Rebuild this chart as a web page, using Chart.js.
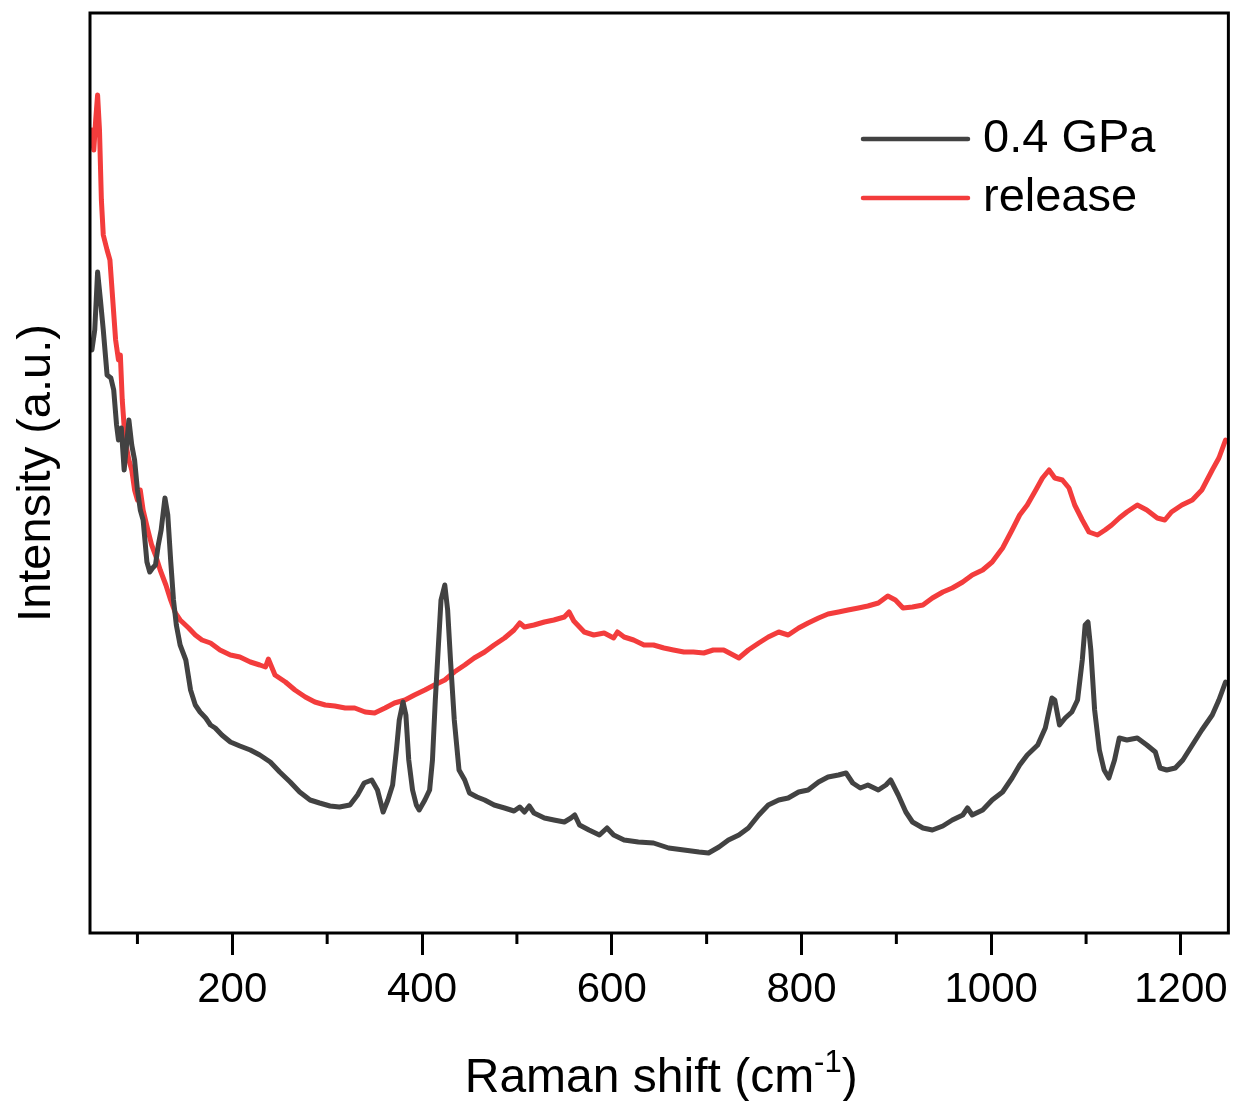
<!DOCTYPE html>
<html>
<head>
<meta charset="utf-8">
<script src="https://cdn.jsdelivr.net/npm/chart.js@4/dist/chart.umd.min.js"></script>
<style>
  html, body { margin: 0; padding: 0; background: #fff; }
  #wrap { width: 1238px; height: 1101px; position: relative; }
</style>
</head>
<body>
<div id="wrap"><canvas id="c" width="1238" height="1101"></canvas></div>
<script>
// ---- data (Raman shift in cm^-1, intensity in arbitrary units) ----
const seriesLabels = ['0.4 GPa', 'release'];

const shiftGPa = [52,55,58,61,64,68,72,75,78,80,83,86,88,91,94,97,100,103,106,110,113,116,119,122,125,129,132,135,138,141,145,151,156,161,166,172,177,182,189,198,208,219,229,240,250,261,271,282,292,303,313,324,332,339,347,353,359,364,369,373,376,380,383,386,390,394,397,403,408,411,414,417,420,424,427,430,434,439,445,450,458,466,476,487,497,503,508,513,518,529,539,550,557,561,566,576,587,595,602,613,628,644,660,676,692,702,713,723,734,744,755,765,776,786,797,807,818,828,839,847,854,862,870,881,889,894,902,910,917,928,938,949,959,970,975,980,991,1001,1012,1022,1030,1038,1049,1057,1064,1067,1072,1078,1085,1091,1096,1099,1102,1105,1109,1114,1119,1124,1130,1135,1143,1154,1164,1173,1178,1185,1194,1202,1212,1222,1233,1240,1247];
const intensityGPa = [583,603,661,633,603,558,555,543,508,493,505,463,483,513,488,473,443,423,413,371,361,365,368,388,403,435,418,373,333,308,288,273,243,228,221,215,208,205,198,191,187,183,178,171,161,151,141,133,130,127,126,128,138,150,153,143,121,133,148,183,213,231,218,173,143,128,123,133,143,173,233,283,333,348,323,273,213,163,153,140,136,133,128,125,122,126,121,127,120,115,113,111,115,118,108,103,98,105,98,93,91,90,85,83,81,80,86,93,98,105,118,128,133,135,141,143,151,156,158,160,150,145,148,143,148,153,138,121,111,105,103,107,113,118,125,118,123,133,141,155,168,178,188,205,235,233,208,215,221,233,273,308,311,283,223,183,163,155,173,195,193,195,188,181,165,163,165,173,188,203,218,233,251];

const shiftRelease = [52,54,56,58,60,62,64,68,71,74,77,80,82,84,87,91,94,97,100,103,106,111,115,119,124,130,135,140,145,154,161,168,177,187,198,208,219,229,235,238,245,256,266,277,287,298,308,319,329,340,350,361,371,382,392,403,413,424,434,445,455,466,476,487,497,503,508,518,529,539,550,555,560,571,581,592,602,606,613,623,634,644,655,665,676,686,697,707,718,728,734,744,755,765,776,786,797,807,818,828,839,849,860,870,881,891,899,907,917,928,938,949,959,970,980,991,1001,1012,1022,1030,1038,1047,1054,1061,1067,1075,1082,1088,1096,1103,1112,1120,1127,1135,1143,1154,1164,1175,1183,1190,1201,1212,1222,1233,1240,1247];
const intensityRelease = [803,783,813,838,803,733,698,683,673,633,593,573,578,533,493,473,463,443,433,443,423,403,388,378,363,348,333,320,313,305,298,293,290,283,278,276,271,268,266,274,258,251,243,236,231,228,227,225,225,221,220,225,230,233,238,243,248,253,261,268,275,281,288,295,303,310,306,308,311,313,316,321,312,301,298,300,295,301,296,293,288,288,285,283,281,281,280,283,283,278,275,283,290,296,301,298,305,310,315,319,321,323,325,327,330,337,333,325,326,328,335,341,345,351,358,363,371,385,403,418,428,443,455,463,455,453,445,428,413,401,398,403,408,415,421,428,423,415,413,421,428,433,443,463,475,493];

const xMin = 50, xMax = 1250;
const xTickValues = [100,200,300,400,500,600,700,800,900,1000,1100,1200];
const xLabelStep = 200;
const yMin = 0, yMax = 920;

const seriesColors = ['#424242', '#f33c3c'];

const toPoints = (xs, ys) => xs.map((v, i) => ({x: v, y: ys[i]}));

const FONT = '"Liberation Sans", Arial, sans-serif';

const framePlugin = {
  id: 'frame',
  afterDraw(chart) {
    const {ctx, chartArea: a} = chart;
    const x = chart.scales.x;
    ctx.save();
    // box
    ctx.strokeStyle = '#000';
    ctx.lineWidth = 3;
    ctx.strokeRect(a.left, a.top, a.right - a.left, a.bottom - a.top);
    // minor ticks
    xTickValues.filter(v => v % xLabelStep !== 0).forEach(v => {
      const px = x.getPixelForValue(v);
      ctx.beginPath();
      ctx.moveTo(px, a.bottom);
      ctx.lineTo(px, a.bottom + 11);
      ctx.stroke();
    });
    // x title with superscript
    ctx.fillStyle = '#000';
    ctx.textBaseline = 'alphabetic';
    const mainFont = '48px ' + FONT, supFont = '31px ' + FONT;
    const p1 = 'Raman shift (cm', sup = '-1', p2 = ')';
    ctx.font = mainFont; const w1 = ctx.measureText(p1).width, w3 = ctx.measureText(p2).width;
    ctx.font = supFont; const w2 = ctx.measureText(sup).width;
    const total = w1 + w2 + w3;
    let sx = (a.left + a.right) / 2 - total / 2 + 2;
    const base = 1092;
    ctx.textAlign = 'left';
    ctx.font = mainFont; ctx.fillText(p1, sx, base);
    ctx.font = supFont; ctx.fillText(sup, sx + w1, base - 20);
    ctx.font = mainFont; ctx.fillText(p2, sx + w1 + w2, base);
    // legend
    const rows = [139, 198];
    chart.data.datasets.forEach((ds, i) => {
      const y = rows[i];
      ctx.strokeStyle = ds.borderColor;
      ctx.lineWidth = 4.5;
      ctx.lineCap = 'round';
      ctx.beginPath();
      ctx.moveTo(863, y);
      ctx.lineTo(968, y);
      ctx.stroke();
      ctx.fillStyle = '#000';
      ctx.font = '47px ' + FONT;
      ctx.textBaseline = 'middle';
      ctx.fillText(ds.label, 983, y);
    });
    ctx.restore();
  }
};

new Chart(document.getElementById('c'), {
  type: 'line',
  data: {
    datasets: [
      { label: seriesLabels[0], data: toPoints(shiftGPa, intensityGPa), borderColor: seriesColors[0], borderWidth: 5, pointRadius: 0, tension: 0, fill: false, borderJoinStyle: 'round', borderCapStyle: 'round' },
      { label: seriesLabels[1], data: toPoints(shiftRelease, intensityRelease), borderColor: seriesColors[1], borderWidth: 5, pointRadius: 0, tension: 0, fill: false, borderJoinStyle: 'round', borderCapStyle: 'round' }
    ]
  },
  options: {
    responsive: false,
    animation: false,
    devicePixelRatio: 1,
    layout: { padding: { top: 13, right: 8, left: 0, bottom: 0 } },
    plugins: { legend: { display: false }, tooltip: { enabled: false } },
    scales: {
      x: {
        type: 'linear',
        min: xMin, max: xMax,
        afterBuildTicks: s => { s.ticks = xTickValues.map(v => ({value: v})); },
        afterFit: s => { s.height = 168; },
        border: { display: false },
        grid: {
          display: true, drawOnChartArea: false, drawTicks: true,
          tickLength: 22, tickWidth: 3,
          tickColor: c => (c.tick && c.tick.value % xLabelStep === 0) ? '#000' : 'rgba(0,0,0,0)'
        },
        ticks: {
          autoSkip: false, maxRotation: 0,
          padding: 10,
          color: '#000',
          font: { family: FONT, size: 42 },
          callback: v => (v % xLabelStep === 0 ? String(v) : '')
        },
        title: { display: false }
      },
      y: {
        type: 'linear',
        min: yMin, max: yMax,
        afterFit: s => { s.width = 90; },
        border: { display: false },
        grid: { display: false },
        ticks: { display: false },
        title: {
          display: true, text: 'Intensity (a.u.)', color: '#000',
          font: { family: FONT, size: 47 },
          padding: { top: 9, bottom: 0 }
        }
      }
    }
  },
  plugins: [framePlugin]
});
</script>
</body>
</html>
